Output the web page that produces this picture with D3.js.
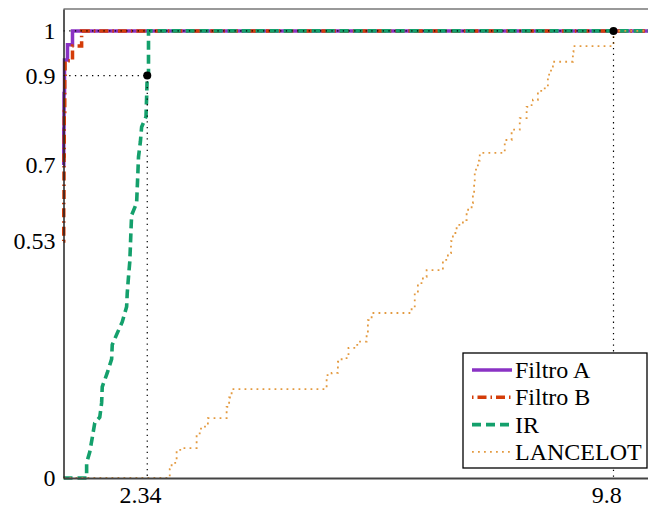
<!DOCTYPE html>
<html>
<head>
<meta charset="utf-8">
<script src="https://cdn.jsdelivr.net/npm/d3@7"></script>
<style>
  body { margin: 0; background: #fff; }
  svg { display: block; font-family: "Liberation Serif", "DejaVu Serif", serif; }
</style>
</head>
<body>
<svg id="chart"></svg>
<script>
// performance profiles (tau, fraction of problems)
var filtroA = [[1,0.70],[1.004,0.78],[1.008,0.86],[1.016,0.935],[1.064,0.969],[1.144,1],[10.4,1]];
var filtroB = [[1,0.53],[1.004,0.62],[1.008,0.72],[1.012,0.82],[1.02,0.89],[1.025,0.933],[1.144,0.966],[1.29,1],[10.4,1]];
var ir = [[1,0],[1.37,0],[1.37,0.034],[1.42,0.058],[1.46,0.09],[1.50,0.123],[1.58,0.136],[1.61,0.168],[1.62,0.204],
          [1.70,0.235],[1.77,0.266],[1.78,0.298],[1.86,0.324],[1.94,0.349],[2.01,0.383],[2.02,0.414],[2.04,0.45],
          [2.06,0.483],[2.07,0.517],[2.08,0.555],[2.09,0.588],[2.17,0.615],[2.18,0.649],[2.19,0.682],[2.20,0.718],
          [2.23,0.752],[2.25,0.785],[2.32,0.808],[2.33,0.852],[2.34,0.9],[2.36,0.9],[2.36,1],[10.4,1]];
var lancelot = [[1,0],[2.70,0.02],[2.73,0.034],[2.81,0.063],[2.89,0.067],[3.13,0.10],[3.20,0.115],[3.31,0.134],
                [3.61,0.159],[3.65,0.18],[3.69,0.199],[5.21,0.23],[5.29,0.235],[5.39,0.26],[5.45,0.268],[5.56,0.291],
                [5.70,0.305],[5.85,0.324],[5.87,0.353],[5.93,0.369],[6.57,0.38],[6.62,0.414],[6.67,0.436],[6.75,0.45],
                [6.81,0.465],[7.07,0.488],[7.15,0.503],[7.20,0.53],[7.23,0.548],[7.29,0.566],[7.39,0.577],[7.45,0.60],
                [7.53,0.615],[7.55,0.633],[7.57,0.66],[7.58,0.682],[7.60,0.694],[7.63,0.71],[7.66,0.727],[8.06,0.756],
                [8.17,0.779],[8.30,0.805],[8.41,0.83],[8.49,0.834],[8.51,0.846],[8.59,0.866],[8.67,0.868],[8.70,0.875],
                [8.75,0.902],[8.80,0.92],[8.83,0.931],[9.15,0.953],[9.16,0.966],[9.8,1],[10.4,1]];

var seriesNames = ["Filtro A", "Filtro B", "IR", "LANCELOT"];
var markers = [[2.34,0.9],[9.8,1]];
var xTicks = [2.34, 9.8];
var yTicks = [0, 0.53, 0.7, 0.9, 1];

var width = 648, height = 511;
var margin = {top:9, left:63.5, right:-3, bottom:33};

var svg = d3.select("#chart")
            .attr("width", width)
            .attr("height", height);

//scales
var xScale = d3.scaleLinear()
               .domain([1, 10.4])
               .range([margin.left, width - margin.right]);
var yScale = d3.scaleLinear()
               .domain([0, 1.049])
               .range([height - margin.bottom, margin.top]);

var styles = [
  {color:"#8a32c4", width:3.5, dash:null, curve:d3.curveStepAfter},
  {color:"#d43c08", width:3.5, dash:"1.5,4,9,4", curve:d3.curveStepAfter},
  {color:"#14a06c", width:3.6, dash:"9,5", curve:d3.curveLinear},
  {color:"#e39a40", width:1.8, dash:"1.8,4.2", curve:d3.curveStepAfter}
];
var allSeries = [filtroA, filtroB, ir, lancelot];

//frame
svg.append("line")
   .attr("x1", xScale(1)).attr("x2", width)
   .attr("y1", margin.top).attr("y2", margin.top)
   .attr("stroke", "#777").attr("stroke-width", 1.5);

//curves
allSeries.forEach(function(s, i){
  var line = d3.line()
               .x(function(d){return xScale(d[0])})
               .y(function(d){return yScale(d[1])})
               .curve(styles[i].curve);
  svg.append("path")
     .datum(s)
     .attr("d", line)
     .attr("fill", "none")
     .attr("stroke", styles[i].color)
     .attr("stroke-width", styles[i].width)
     .attr("stroke-dasharray", styles[i].dash);
});

//guides to markers
markers.forEach(function(m){
  svg.append("line")
     .attr("x1", xScale(1)).attr("x2", xScale(m[0]))
     .attr("y1", yScale(m[1])).attr("y2", yScale(m[1]))
     .attr("stroke", "#000").attr("stroke-width", 1.2)
     .attr("stroke-dasharray", "1.3,4.4");
  svg.append("line")
     .attr("x1", xScale(m[0])).attr("x2", xScale(m[0]))
     .attr("y1", yScale(m[1])).attr("y2", yScale(0))
     .attr("stroke", "#000").attr("stroke-width", 1.2)
     .attr("stroke-dasharray", "1.3,4.4");
});

svg.selectAll("circle.mk")
   .data(markers)
   .enter()
   .append("circle")
   .attr("class", "mk")
   .attr("cx", function(d){return xScale(d[0])})
   .attr("cy", function(d){return yScale(d[1])})
   .attr("r", 4)
   .attr("fill", "#000");

//axes
var xAxis = svg.append("g")
               .attr("transform", "translate(0," + yScale(0) + ")")
               .call(d3.axisBottom(xScale).tickValues(xTicks).tickSize(0).tickPadding(8)
                       .tickFormat(function(d){return String(d)}));
xAxis.attr("font-family", null);
xAxis.select(".domain").attr("stroke", "#444").attr("stroke-width", 1.8);
xAxis.selectAll("text").attr("font-size", 24).attr("fill", "#000").attr("dx", "-0.3em");

var yAxis = svg.append("g")
               .attr("transform", "translate(" + xScale(1) + ",0)")
               .call(d3.axisLeft(yScale).tickValues(yTicks).tickSize(0).tickPadding(8)
                       .tickFormat(function(d){return String(d)}));
yAxis.attr("font-family", null);
yAxis.select(".domain").attr("stroke", "#222").attr("stroke-width", 1.5);
yAxis.selectAll("text").attr("font-size", 24).attr("fill", "#000");

//legend
var legend = svg.append("g").attr("transform", "translate(463,353)");
legend.append("rect")
      .attr("width", 184).attr("height", 115)
      .attr("fill", "#fff").attr("stroke", "#000").attr("stroke-width", 1.3);
seriesNames.forEach(function(name, i){
  var yb = 25 + i * 27.3;
  legend.append("line")
        .attr("x1", 9).attr("x2", 49)
        .attr("y1", yb - 8).attr("y2", yb - 8)
        .attr("stroke", styles[i].color)
        .attr("stroke-width", styles[i].width)
        .attr("stroke-dasharray", styles[i].dash);
  legend.append("text")
        .attr("x", 52).attr("y", yb)
        .attr("font-size", 24)
        .text(name);
});
</script>
</body>
</html>
